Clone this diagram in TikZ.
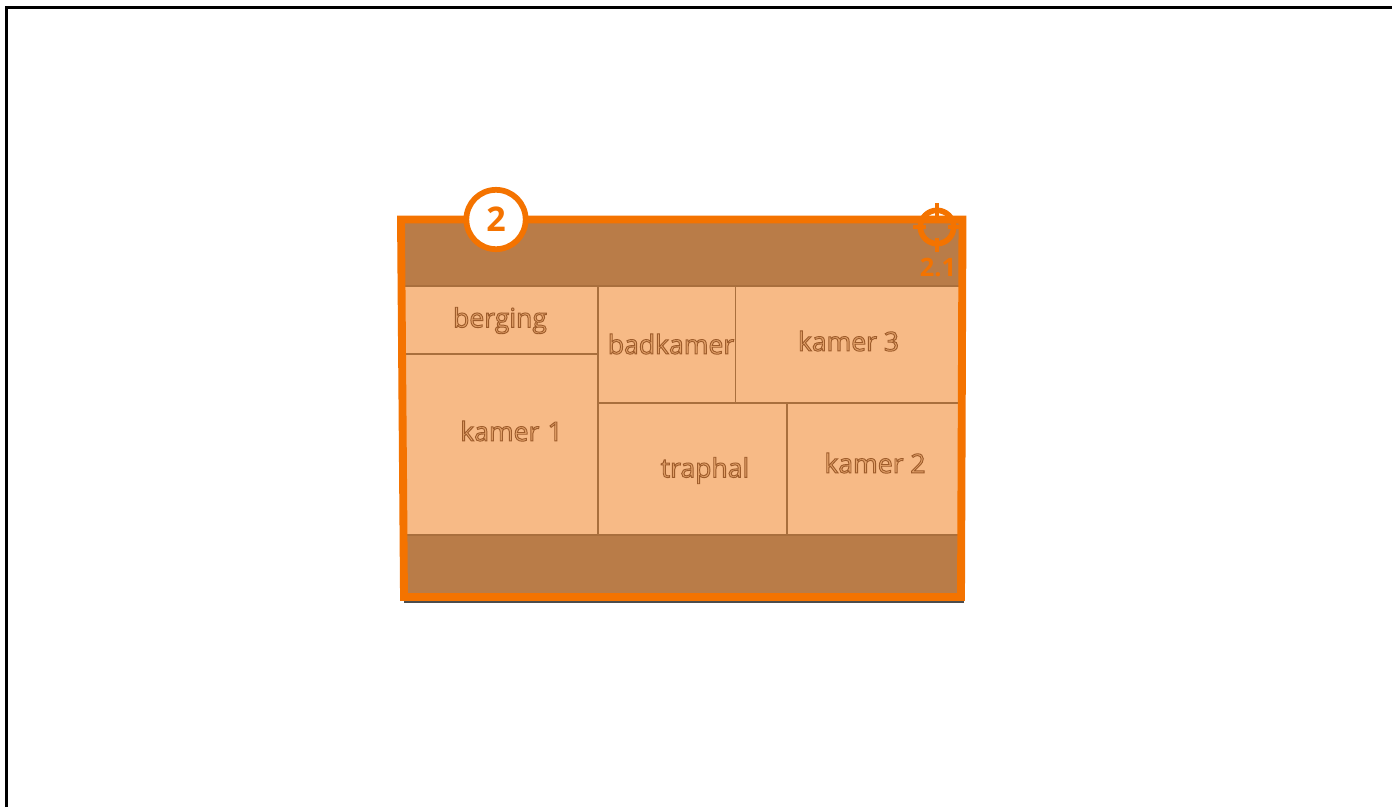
\documentclass[tikz,border=0pt]{standalone}
\usepackage{fontspec}
\setmainfont{Open Sans}
\definecolor{orng}{HTML}{F47300}
\definecolor{bandc}{HTML}{B97C48}
\definecolor{roomc}{HTML}{F7BA86}
\definecolor{linec}{HTML}{A96F3D}
\newcommand{\outl}[1]{\special{pdf:code q 2 Tr 0.7 w 0.62 0.36 0.17 RG 0.90 0.64 0.42 rg}#1\special{pdf:code Q}}
\tikzset{
  wall/.style={draw=linec,line width=1pt},
  roomlabel/.style={font=\fontsize{19.9pt}{24pt}\selectfont,text=linec,inner sep=0pt,anchor=center},
  orngline/.style={draw=orng,line cap=butt},
}
\begin{document}
\begin{tikzpicture}[x=0.75pt,y=-0.75pt]
\useasboundingbox (0,0) rectangle (1392,807);
\fill[white] (0,0) rectangle (1392,807);
% page frame
\draw[black,line width=2.2pt] (6.2,807) -- (6.2,7.2) -- (1392,7.2);
% building
\draw[black!70,line width=1.5pt] (404,602) -- (964,602);
\fill[bandc] (403,221) -- (961,221) -- (960,597) -- (405,597) -- cycle;
\fill[roomc] (405,286) rectangle (959,535);
% rooms
\draw[wall] (405,286) -- (959,286);
\draw[wall] (406,535) -- (958,535);
\draw[wall] (598,286) -- (598,535);
\draw[wall] (405,354) -- (598,354);
\draw[wall] (735.5,286) -- (735.5,403);
\draw[wall] (598,403) -- (959,403);
\draw[wall] (787,403) -- (787,535);
% labels
\node[roomlabel] (berging) at (500,320.5) {\outl{berging}};
\node[roomlabel] (badkamer) at (671,344) {\outl{badkamer}};
\node[roomlabel] (kamer3) at (848.5,341) {\outl{kamer 3}};
\node[roomlabel] (kamer1) at (511.5,431) {\outl{kamer\hspace{1pt} 1}};
\node[roomlabel] (traphal) at (705,470.5) {\outl{traphal}};
\node[roomlabel] (kamer2) at (875,463) {\outl{kamer 2}};
% outline
\draw[orngline,line width=5.9pt,line join=miter] (401,219.5) -- (962.5,219.5) -- (961,597) -- (404,597) -- cycle;
% badge
\node[circle,draw=orng,fill=white,line width=4.3pt,minimum size=44.5pt,inner sep=0pt,text=orng,font=\bfseries\fontsize{25.5pt}{28pt}\selectfont] (badge) at (496,219.5) {2};
% crosshair
\node[circle,draw=orng,line width=4.2pt,minimum size=25pt,inner sep=0pt] (target) at (937,227) {};
\draw[orngline,line width=3.6pt] (937,203) -- (937,216);
\draw[orngline,line width=3.6pt] (937,238) -- (937,252);
\draw[orngline,line width=3.6pt] (913,227) -- (926,227);
\draw[orngline,line width=3.6pt] (948,227) -- (961,227);
\node[text=orng,inner sep=0pt,font=\bfseries\fontsize{19pt}{24pt}\selectfont] (tlabel) at (938,267) {2.1};
\end{tikzpicture}
\end{document}
